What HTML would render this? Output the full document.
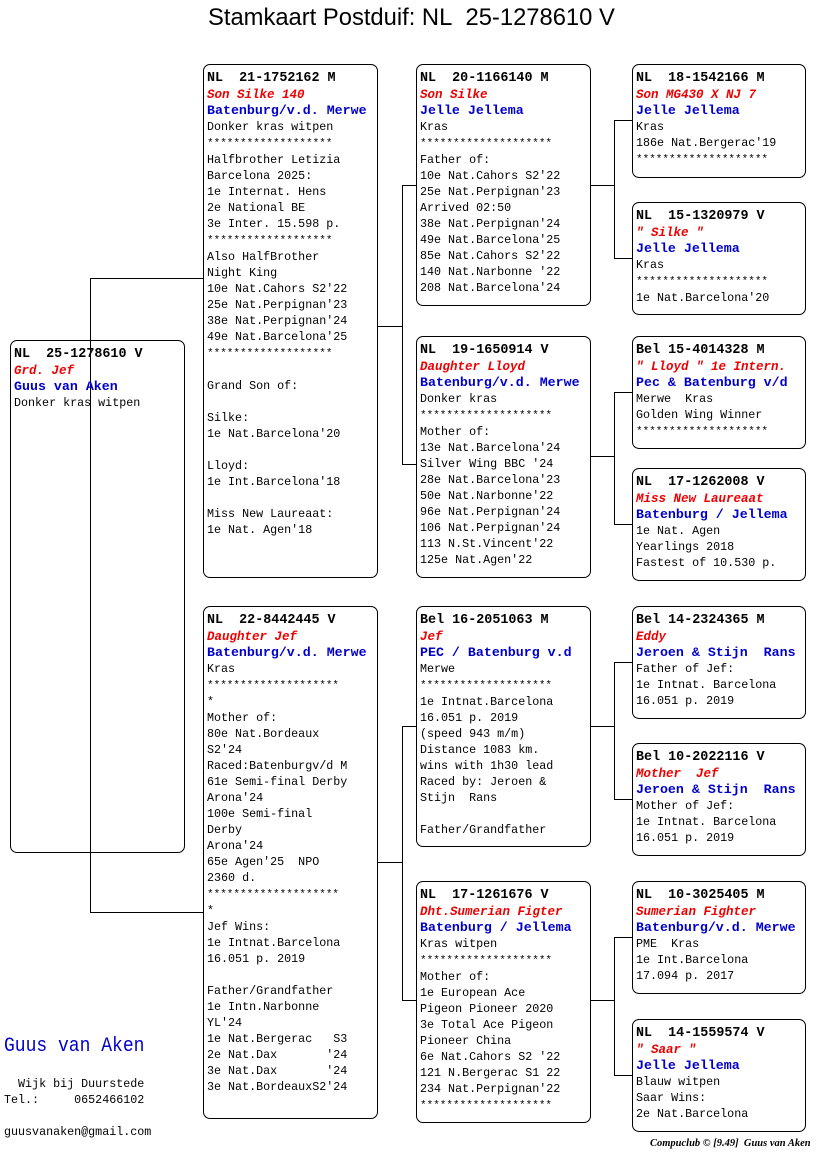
<!DOCTYPE html>
<html><head><meta charset="utf-8">
<style>
body{margin:0;width:816px;height:1172px;background:#fff;position:relative;overflow:hidden;font-family:"Liberation Mono",monospace;}
.t{position:absolute;left:208px;top:4px;font-family:"Liberation Sans",sans-serif;font-size:24px;white-space:nowrap;transform:scaleX(0.99);transform-origin:0 0;}
.b{position:absolute;border:1px solid #000;border-radius:7px;box-sizing:border-box;padding:5px 3px;font-size:11.7px;line-height:16px;white-space:pre;overflow:hidden;}
.h{font-weight:bold;font-size:13.4px;}
.r{color:#e00;font-style:italic;font-weight:bold;font-size:12.5px;}
.u{color:#00c;font-weight:bold;font-size:13.3px;}
.s{font-size:11px;}
.l{position:absolute;background:#000;}
</style></head><body>
<div class="t">Stamkaart Postduif: NL&nbsp;&nbsp;25-1278610 V</div>

<div class="l" style="left:90px;top:278px;width:1px;height:634px"></div>
<div class="l" style="left:90px;top:278px;width:113px;height:1px"></div>
<div class="l" style="left:90px;top:912px;width:113px;height:1px"></div>

<div class="l" style="left:377px;top:326px;width:25px;height:1px"></div>
<div class="l" style="left:402px;top:185px;width:1px;height:279px"></div>
<div class="l" style="left:402px;top:185px;width:14px;height:1px"></div>
<div class="l" style="left:402px;top:464px;width:14px;height:1px"></div>

<div class="l" style="left:377px;top:862px;width:25px;height:1px"></div>
<div class="l" style="left:402px;top:726px;width:1px;height:274px"></div>
<div class="l" style="left:402px;top:726px;width:14px;height:1px"></div>
<div class="l" style="left:402px;top:1000px;width:14px;height:1px"></div>

<div class="l" style="left:590px;top:185px;width:24px;height:1px"></div>
<div class="l" style="left:614px;top:120px;width:1px;height:138px"></div>
<div class="l" style="left:614px;top:120px;width:18px;height:1px"></div>
<div class="l" style="left:614px;top:258px;width:18px;height:1px"></div>

<div class="l" style="left:590px;top:456px;width:24px;height:1px"></div>
<div class="l" style="left:614px;top:392px;width:1px;height:132px"></div>
<div class="l" style="left:614px;top:392px;width:18px;height:1px"></div>
<div class="l" style="left:614px;top:524px;width:18px;height:1px"></div>

<div class="l" style="left:590px;top:726px;width:24px;height:1px"></div>
<div class="l" style="left:614px;top:662px;width:1px;height:137px"></div>
<div class="l" style="left:614px;top:662px;width:18px;height:1px"></div>
<div class="l" style="left:614px;top:799px;width:18px;height:1px"></div>

<div class="l" style="left:590px;top:1000px;width:24px;height:1px"></div>
<div class="l" style="left:614px;top:937px;width:1px;height:138px"></div>
<div class="l" style="left:614px;top:937px;width:18px;height:1px"></div>
<div class="l" style="left:614px;top:1075px;width:18px;height:1px"></div>

<div class="b" style="left:10px;top:340px;width:175px;height:513px"><span class="h">NL  25-1278610 V</span>
<span class="r">Grd. Jef</span>
<span class="u">Guus van Aken</span>
Donker kras witpen</div>

<div class="b" style="left:203px;top:64px;width:175px;height:514px"><span class="h">NL  21-1752162 M</span>
<span class="r">Son Silke 140</span>
<span class="u">Batenburg/v.d. Merwe</span>
Donker kras witpen
<span class="s">*******************</span>
Halfbrother Letizia
Barcelona 2025:
1e Internat. Hens
2e National BE
3e Inter. 15.598 p.
<span class="s">*******************</span>
Also HalfBrother
Night King
10e Nat.Cahors S2'22
25e Nat.Perpignan'23
38e Nat.Perpignan'24
49e Nat.Barcelona'25
<span class="s">*******************</span>

Grand Son of:

Silke:
1e Nat.Barcelona'20

Lloyd:
1e Int.Barcelona'18

Miss New Laureaat:
1e Nat. Agen'18</div>

<div class="b" style="left:203px;top:606px;width:175px;height:513px"><span class="h">NL  22-8442445 V</span>
<span class="r">Daughter Jef</span>
<span class="u">Batenburg/v.d. Merwe</span>
Kras
<span class="s">********************</span>
*
Mother of:
80e Nat.Bordeaux
S2'24
Raced:Batenburgv/d M
61e Semi-final Derby
Arona'24
100e Semi-final
Derby
Arona'24
65e Agen'25  NPO
2360 d.
<span class="s">********************</span>
*
Jef Wins:
1e Intnat.Barcelona
16.051 p. 2019

Father/Grandfather
1e Intn.Narbonne
YL'24
1e Nat.Bergerac   S3
2e Nat.Dax       '24
3e Nat.Dax       '24
3e Nat.BordeauxS2'24</div>

<div class="b" style="left:416px;top:64px;width:175px;height:242px"><span class="h">NL  20-1166140 M</span>
<span class="r">Son Silke</span>
<span class="u">Jelle Jellema</span>
Kras
<span class="s">********************</span>
Father of:
10e Nat.Cahors S2'22
25e Nat.Perpignan'23
Arrived 02:50
38e Nat.Perpignan'24
49e Nat.Barcelona'25
85e Nat.Cahors S2'22
140 Nat.Narbonne '22
208 Nat.Barcelona'24</div>

<div class="b" style="left:416px;top:336px;width:175px;height:242px"><span class="h">NL  19-1650914 V</span>
<span class="r">Daughter Lloyd</span>
<span class="u">Batenburg/v.d. Merwe</span>
Donker kras
<span class="s">********************</span>
Mother of:
13e Nat.Barcelona'24
Silver Wing BBC '24
28e Nat.Barcelona'23
50e Nat.Narbonne'22
96e Nat.Perpignan'24
106 Nat.Perpignan'24
113 N.St.Vincent'22
125e Nat.Agen'22</div>

<div class="b" style="left:416px;top:606px;width:175px;height:241px"><span class="h">Bel 16-2051063 M</span>
<span class="r">Jef</span>
<span class="u">PEC / Batenburg v.d</span>
Merwe
<span class="s">********************</span>
1e Intnat.Barcelona
16.051 p. 2019
(speed 943 m/m)
Distance 1083 km.
wins with 1h30 lead
Raced by: Jeroen &amp;
Stijn  Rans

Father/Grandfather</div>

<div class="b" style="left:416px;top:881px;width:175px;height:242px"><span class="h">NL  17-1261676 V</span>
<span class="r">Dht.Sumerian Figter</span>
<span class="u">Batenburg / Jellema</span>
Kras witpen
<span class="s">********************</span>
Mother of:
1e European Ace
Pigeon Pioneer 2020
3e Total Ace Pigeon
Pioneer China
6e Nat.Cahors S2 '22
121 N.Bergerac S1 22
234 Nat.Perpignan'22
<span class="s">********************</span></div>

<div class="b" style="left:632px;top:64px;width:174px;height:114px"><span class="h">NL  18-1542166 M</span>
<span class="r">Son MG430 X NJ 7</span>
<span class="u">Jelle Jellema</span>
Kras
186e Nat.Bergerac'19
<span class="s">********************</span></div>

<div class="b" style="left:632px;top:202px;width:174px;height:113px"><span class="h">NL  15-1320979 V</span>
<span class="r">" Silke "</span>
<span class="u">Jelle Jellema</span>
Kras
<span class="s">********************</span>
1e Nat.Barcelona'20</div>

<div class="b" style="left:632px;top:336px;width:174px;height:113px"><span class="h">Bel 15-4014328 M</span>
<span class="r">" Lloyd " 1e Intern.</span>
<span class="u">Pec &amp; Batenburg v/d</span>
Merwe  Kras
Golden Wing Winner
<span class="s">********************</span></div>

<div class="b" style="left:632px;top:468px;width:174px;height:113px"><span class="h">NL  17-1262008 V</span>
<span class="r">Miss New Laureaat</span>
<span class="u">Batenburg / Jellema</span>
1e Nat. Agen
Yearlings 2018
Fastest of 10.530 p.</div>

<div class="b" style="left:632px;top:606px;width:174px;height:113px"><span class="h">Bel 14-2324365 M</span>
<span class="r">Eddy</span>
<span class="u">Jeroen &amp; Stijn  Rans</span>
Father of Jef:
1e Intnat. Barcelona
16.051 p. 2019</div>

<div class="b" style="left:632px;top:743px;width:174px;height:113px"><span class="h">Bel 10-2022116 V</span>
<span class="r">Mother  Jef</span>
<span class="u">Jeroen &amp; Stijn  Rans</span>
Mother of Jef:
1e Intnat. Barcelona
16.051 p. 2019</div>

<div class="b" style="left:632px;top:881px;width:174px;height:113px"><span class="h">NL  10-3025405 M</span>
<span class="r">Sumerian Fighter</span>
<span class="u">Batenburg/v.d. Merwe</span>
PME  Kras
1e Int.Barcelona
17.094 p. 2017</div>

<div class="b" style="left:632px;top:1019px;width:174px;height:113px"><span class="h">NL  14-1559574 V</span>
<span class="r">" Saar "</span>
<span class="u">Jelle Jellema</span>
Blauw witpen
Saar Wins:
2e Nat.Barcelona</div>

<div style="position:absolute;left:4px;top:1035px;font-size:20px;color:#00c;white-space:nowrap;transform:scaleX(0.9);transform-origin:0 0">Guus van Aken</div>
<div style="position:absolute;left:4px;top:1076px;font-size:11.7px;line-height:16px;white-space:pre">  Wijk bij Duurstede
Tel.:     0652466102</div>
<div style="position:absolute;left:4px;top:1125px;font-size:11.7px;white-space:pre">guusvanaken@gmail.com</div>
<div style="position:absolute;left:650px;top:1138px;font-size:10.5px;font-style:italic;font-family:'Liberation Serif',serif;font-weight:bold;white-space:pre">Compuclub © [9.49]  Guus van Aken</div>
</body></html>
